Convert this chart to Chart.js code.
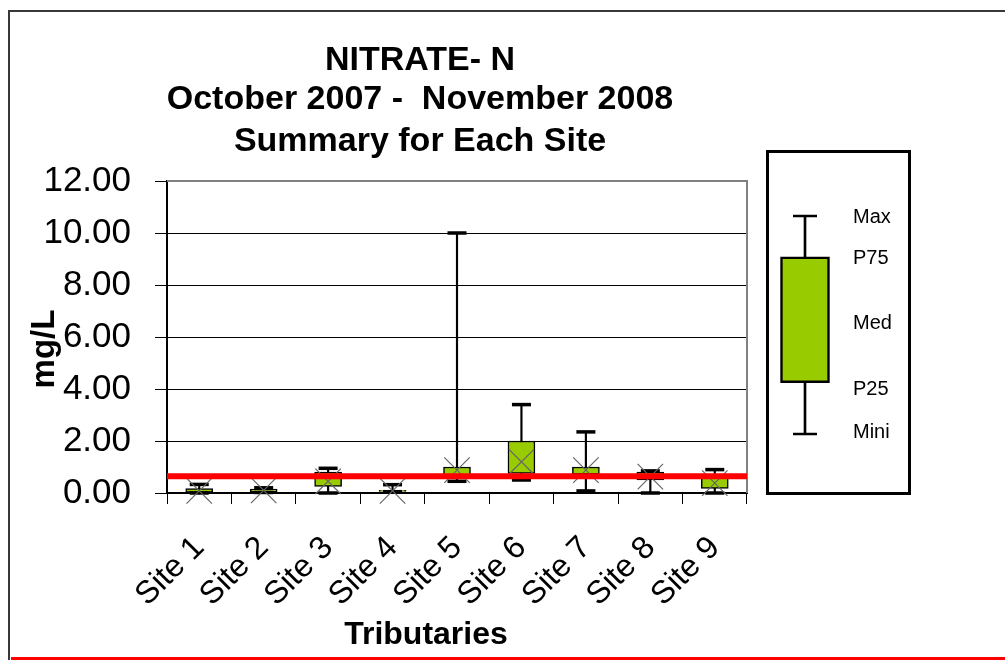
<!DOCTYPE html>
<html><head><meta charset="utf-8">
<script src="https://cdn.jsdelivr.net/npm/chart.js@4.4.1/dist/chart.umd.min.js"></script>
<style>
html,body{margin:0;padding:0;background:#fff;}
#wrap{position:relative;width:1005px;height:660px;overflow:hidden;background:#fff;}
#main{position:absolute;left:0;top:0;}
#frame{position:absolute;left:8px;top:10px;width:1100px;height:700px;border-left:2px solid #383838;border-top:2px solid #383838;box-sizing:border-box;}
#redbar{position:absolute;left:11px;top:657px;width:1000px;height:3px;background:#ff0000;}
#legbox{position:absolute;left:766px;top:150px;width:145px;height:345px;border:3px solid #000;box-sizing:border-box;background:#fff;}
#leg{position:absolute;left:769px;top:153px;}
</style></head>
<body><div id="wrap">
<div id="frame"></div><div id="redbar"></div>
<canvas id="main" width="1005" height="660"></canvas>
<div id="legbox"></div>
<canvas id="leg" width="139" height="339"></canvas>
</div>
<script>
// ---- data ----
const sites = ['Site 1','Site 2','Site 3','Site 4','Site 5','Site 6','Site 7','Site 8','Site 9'];
const minVals = [0.00, 0.02, 0.00, 0.05, 0.45, 0.50, 0.08, 0.00, 0.00];
const p25Vals = [0.02, 0.05, 0.25, 0.06, 0.65, 0.75, 0.72, 0.50, 0.18];
const medVals = [0.08, 0.10, 0.45, 0.08, 0.88, 1.20, 0.88, 0.63, 0.38];
const p75Vals = [0.17, 0.15, 0.80, 0.10, 1.00, 2.00, 1.00, 0.80, 0.65];
const maxVals = [0.33, 0.20, 0.95, 0.32, 10.00, 3.40, 2.35, 0.85, 0.90];
const standardVal = [0.64];
const yTickVals = [0, 2, 4, 6, 8, 10, 12];
const titleLines = ['NITRATE- N', 'October 2007 -  November 2008', 'Summary for Each Site'];
const xTitle = 'Tributaries';
const yTitle = 'mg/L';
// legend (illustrative box)
const legendLabels = ['Mini', 'P25', 'Med', 'P75', 'Max'];
const legendBox = [0, 2.35, 5.05, 8.13, 10];      // min, p25, med, p75, max
const legendLabelPos = [0.09, 2.06, 5.05, 8.07, 9.95];

const FAM = '"Liberation Sans", Arial, sans-serif';
Chart.defaults.font.family = FAM;
Chart.defaults.color = '#000';

function noPad(s) { s.paddingTop = 0; s.paddingBottom = 0; s.paddingLeft = 0; s.paddingRight = 0; }

const textPlugin = {
  id: 'texts',
  beforeDatasetsDraw(chart) {
    const c = chart.ctx, a = chart.chartArea;
    c.save();
    c.strokeStyle = '#808080';
    c.lineWidth = 2;
    c.beginPath();
    c.moveTo(a.left, a.top);
    c.lineTo(a.right, a.top);
    c.lineTo(a.right, a.bottom);
    c.stroke();
    c.restore();
  },
  afterDraw(chart) {
    const c = chart.ctx;
    c.save();
    c.fillStyle = '#000';
    c.textAlign = 'center';
    c.textBaseline = 'alphabetic';
    c.font = 'bold 34px ' + FAM;
    const bases = [70, 109, 151];
    titleLines.forEach((t, i) => c.fillText(t, 420, bases[i]));
    c.font = 'bold 32px ' + FAM;
    c.fillText(xTitle, 426, 644);
    c.translate(54, 349);
    c.rotate(-Math.PI / 2);
    c.font = 'bold 33px ' + FAM;
    c.fillText(yTitle, 0, 0);
    c.restore();
  }
};

new Chart(document.getElementById('main'), {
  type: 'bar',
  data: {
    labels: sites,
    datasets: [
      { type: 'bar', label: 'range', data: minVals.map((v, i) => [v, maxVals[i]]),
        backgroundColor: '#000', borderWidth: 0, barThickness: 1.5, grouped: false, order: 6 },
      { type: 'bar', label: 'box', data: p25Vals.map((v, i) => [v, p75Vals[i]]),
        backgroundColor: '#99CC00', borderColor: '#000', borderWidth: 1.5, borderSkipped: false,
        barThickness: 27, grouped: false, order: 5 },
      { type: 'line', label: 'max', data: maxVals, showLine: false, pointStyle: 'line',
        pointRadius: 9.5, pointBorderWidth: 3.5, pointBorderColor: '#000', order: 4, clip: false },
      { type: 'line', label: 'min', data: minVals, showLine: false, pointStyle: 'line',
        pointRadius: 9.5, pointBorderWidth: 3.5, pointBorderColor: '#000', order: 4, clip: false },
      { type: 'line', label: 'median', data: medVals, showLine: false, pointStyle: 'crossRot',
        pointRadius: 18, pointBorderWidth: 1.2, pointBorderColor: '#666666', order: 3, clip: false },
      { type: 'line', label: 'standard', xAxisID: 'x2',
        data: [{ x: 0, y: standardVal[0] }, { x: 1, y: standardVal[0] }],
        borderColor: '#ff0000', borderWidth: 6, pointRadius: 0, order: 1, clip: false }
    ]
  },
  options: {
    responsive: false, animation: false, events: [],
    layout: { padding: { left: 0, top: 181, right: 258, bottom: 0 }, autoPadding: false },
    plugins: { legend: { display: false }, tooltip: { enabled: false }, title: { display: false } },
    scales: {
      x: {
        type: 'category', offset: true,
        afterFit(s) { s.height = 167; noPad(s); },
        grid: { display: true, drawOnChartArea: false, drawTicks: true, tickLength: 11, color: '#000', lineWidth: 1, offset: true },
        border: { display: true, color: '#000', width: 2 },
        ticks: { autoSkip: false, minRotation: 45, maxRotation: 45, padding: 25, color: '#000', font: { family: FAM, size: 32 } }
      },
      x2: { type: 'linear', display: false, offset: false, min: 0, max: 1 },
      y: {
        min: 0, max: 12,
        afterFit(s) { s.width = 167; noPad(s); },
        afterBuildTicks(s) { s.ticks = yTickVals.map(v => ({ value: v })); },
        ticks: { padding: 24, color: '#000', font: { family: FAM, size: 35 }, callback: v => Number(v).toFixed(2) },
        grid: { color: '#000', lineWidth: 1, tickLength: 12, drawTicks: true },
        border: { color: '#000', width: 2 }
      }
    }
  },
  plugins: [textPlugin]
});

new Chart(document.getElementById('leg'), {
  type: 'bar',
  data: {
    labels: [''],
    datasets: [
      { type: 'bar', data: [[legendBox[0], legendBox[4]]], backgroundColor: '#000', borderWidth: 0,
        barThickness: 2, grouped: false, order: 6 },
      { type: 'bar', data: [[legendBox[1], legendBox[3]]], backgroundColor: '#99CC00', borderColor: '#000',
        borderWidth: 2.5, borderSkipped: false, barThickness: 49, grouped: false, order: 5 },
      { type: 'line', data: [legendBox[4]], showLine: false, pointStyle: 'line', pointRadius: 12,
        pointBorderWidth: 2.5, pointBorderColor: '#000', order: 4, clip: false },
      { type: 'line', data: [legendBox[0]], showLine: false, pointStyle: 'line', pointRadius: 12,
        pointBorderWidth: 2.5, pointBorderColor: '#000', order: 4, clip: false }
    ]
  },
  options: {
    responsive: false, animation: false, events: [],
    layout: { padding: 0, autoPadding: false },
    plugins: { legend: { display: false }, tooltip: { enabled: false } },
    scales: {
      x: { display: false, offset: true, afterFit(s) { noPad(s); } },
      y: {
        position: 'right', min: -2.66, max: 12.89,
        afterFit(s) { s.width = 67; noPad(s); },
        afterBuildTicks(s) { s.ticks = legendLabelPos.map(v => ({ value: v })); },
        grid: { display: false, drawTicks: false }, border: { display: false },
        ticks: { padding: 12, color: '#000', font: { family: FAM, size: 20 },
          callback: (v, i) => legendLabels[i] }
      }
    }
  }
});
</script>
</body></html>
